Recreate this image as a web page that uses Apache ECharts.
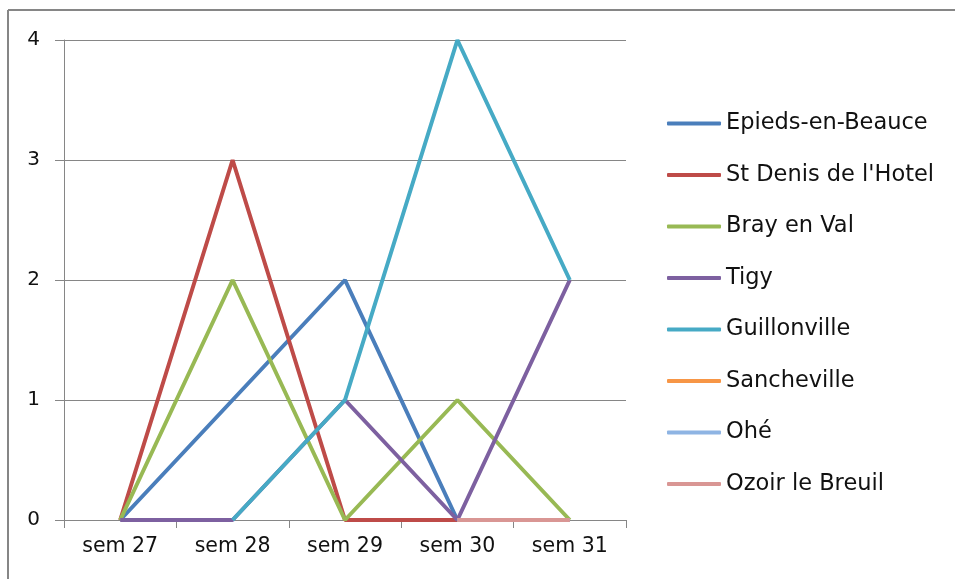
<!DOCTYPE html>
<html><head><meta charset="utf-8">
<script src="https://cdn.jsdelivr.net/npm/echarts@6/dist/echarts.min.js"></script>
<style>html,body{margin:0;padding:0;background:#fff}#c{width:955px;height:579px}</style>
</head><body><div id="c"></div>
<script>
const categories = ['sem 27','sem 28','sem 29','sem 30','sem 31'];
const seriesNames = ['Epieds-en-Beauce',"St Denis de l'Hotel",'Bray en Val','Tigy','Guillonville','Sancheville','Ohé','Ozoir le Breuil'];
const epieds = [0,1,2,0,0];
const stDenis = [0,3,0,0,0];
const bray = [0,2,0,1,0];
const tigy = [0,0,1,0,2];
const guillonville = [null,0,1,4,2];
const sancheville = [null,null,null,0,0];
const ohe = [null,null,null,0,0];
const ozoir = [null,null,null,0,0];
const yTicks = [0,1,2,3,4];
const colors = ['#4A7EBB','#BE4B48','#98B954','#7D60A0','#46AAC5','#F79646','#8EB4E3','#D99694'];
const values = [epieds,stDenis,bray,tigy,guillonville,sancheville,ohe,ozoir];
const font = '"DejaVu Sans", "Liberation Sans", sans-serif';
const chart = echarts.init(document.getElementById('c'), null, {renderer:'canvas'});
chart.setOption({
  animation:false,
  color: colors,
  graphic:[
    {type:'line', shape:{x1:8,y1:10,x2:955,y2:10}, style:{stroke:'#868686',lineWidth:2}},
    {type:'line', shape:{x1:8,y1:10,x2:8,y2:579}, style:{stroke:'#868686',lineWidth:2}}
  ],
  grid:{left:64,right:329,top:40,bottom:59},
  xAxis:{type:'category',data:categories,boundaryGap:true,
    axisLine:{lineStyle:{color:'#868686',width:1}},
    axisTick:{show:true,length:8,lineStyle:{color:'#868686'}},
    axisLabel:{color:'#111',fontFamily:font,fontSize:20.5,margin:16}},
  yAxis:{type:'value',min:yTicks[0],max:yTicks[yTicks.length-1],interval:1,
    axisLine:{show:true,lineStyle:{color:'#868686',width:1}},
    axisTick:{show:true,length:9,lineStyle:{color:'#868686'}},
    splitLine:{lineStyle:{color:'#868686',width:1}},
    axisLabel:{color:'#111',fontFamily:font,fontSize:20,margin:24}},
  legend:{orient:'vertical',left:662,top:107,itemWidth:54,itemHeight:4,itemGap:28.5,
    icon:'roundRect',
    textStyle:{fontFamily:font,fontSize:22.5,color:'#111',lineHeight:20,padding:[0,0,0,0]},
    data:seriesNames},
  series: seriesNames.map((n,i)=>({name:n,type:'line',data:values[i],
    symbol:'none',lineStyle:{width:4,color:colors[i]},itemStyle:{color:colors[i]},connectNulls:false}))
});
</script></body></html>
